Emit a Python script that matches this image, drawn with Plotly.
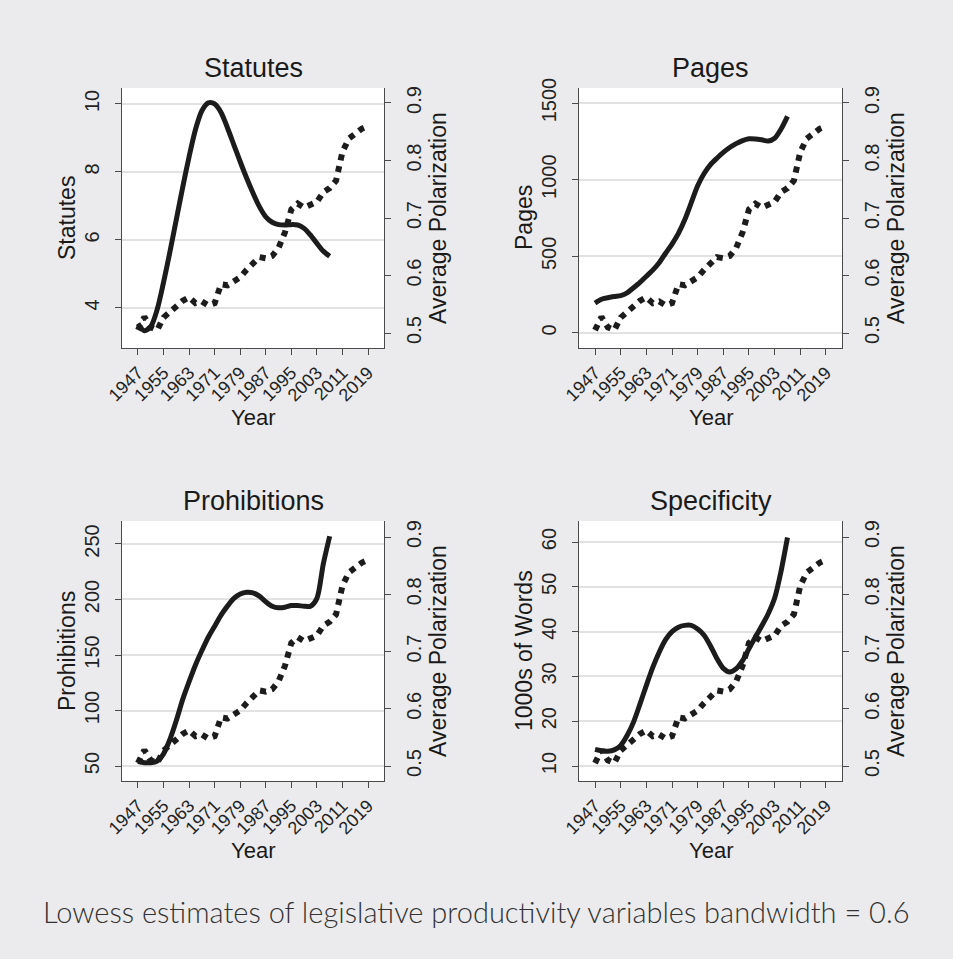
import plotly.graph_objects as go

# ---------------- data ----------------
years_pol = list(range(1947, 2020, 2))
polarization = [0.505, 0.528, 0.510, 0.505, 0.527, 0.537, 0.548, 0.556, 0.562, 0.552,
                0.555, 0.548, 0.552, 0.585, 0.583, 0.590, 0.597, 0.610, 0.622, 0.632,
                0.630, 0.634, 0.648, 0.675, 0.715, 0.725, 0.718, 0.722, 0.728, 0.745,
                0.752, 0.765, 0.815, 0.838, 0.848, 0.855, 0.860]

years_fit = list(range(1947, 2008, 2))
statutes = [3.54, 3.33, 3.45, 3.95, 4.75, 5.65, 6.6, 7.55, 8.45, 9.25,
            9.8, 10.03, 10.0, 9.75, 9.3, 8.8, 8.3, 7.82, 7.38, 6.98,
            6.68, 6.52, 6.45, 6.44, 6.45, 6.44, 6.34, 6.14, 5.9, 5.67, 5.52]
pages = [195, 220, 230, 238, 244, 262, 295, 330, 370, 410,
         458, 520, 580, 650, 740, 850, 960, 1040, 1098, 1140,
         1178, 1210, 1235, 1255, 1267, 1266, 1260, 1252, 1270, 1330, 1413]
prohibitions = [54, 53, 53, 54.5, 61, 74, 91, 110, 126, 141,
                154, 166, 176, 186, 194, 201, 205, 206.5, 206, 203,
                198, 194, 192.5, 193, 194.5, 194.5, 194, 194, 201, 232, 257]
specificity = [13.7, 13.4, 13.3, 13.6, 14.6, 16.8, 19.8, 23.8, 28, 32,
               35.4, 38.2, 40, 41, 41.4, 41.4, 40.6, 39.2, 36.8, 34,
               31.8, 31, 31.7, 33.5, 36.2, 38.8, 41.3, 44, 47.5, 53.5, 61]

panel_titles = ["Statutes", "Pages", "Prohibitions", "Specificity"]
left_titles = ["Statutes", "Pages", "Prohibitions", "1000s of Words"]
right_title = "Average Polarization"
x_title = "Year"
left_ticks = [[4, 6, 8, 10], [0, 500, 1000, 1500], [50, 100, 150, 200, 250],
              [10, 20, 30, 40, 50, 60]]
right_ticks = [0.5, 0.6, 0.7, 0.8, 0.9]
year_ticks = list(range(1947, 2020, 8))
caption = "Lowess estimates of legislative productivity variables bandwidth = 0.6"

series = [statutes, pages, prohibitions, specificity]

# ---------------- layout geometry ----------------
W, H = 953, 959
boxes = [(122, 384, 88, 348), (579, 842, 88, 348), (122, 384, 521, 781), (579, 842, 521, 781)]
left_ranges = [[2.82, 10.47], [-98, 1598], [36.5, 270.7], [6.65, 64.7]]
right_ranges = [[0.474, 0.926], [0.474, 0.926], [0.4738, 0.928], [0.4738, 0.928]]
x_range = [1942, 2024]

FONT = "Liberation Sans, Arial, Helvetica, sans-serif"
INK = "#1c1c1c"
AXC = "#4a4a4a"
BG = "#EBEBED"

fig = go.Figure()
layout = dict(
    width=W, height=H, autosize=False,
    margin=dict(l=0, r=0, t=0, b=0),
    paper_bgcolor=BG, plot_bgcolor="white",
    showlegend=False,
    font=dict(family=FONT, color="#222"),
)
annotations = []

for i in range(4):
    n = i + 1
    l, r, t, b = boxes[i]
    xd = [l / W, r / W]
    yd = [1 - b / H, 1 - t / H]
    xs = "x" if n == 1 else f"x{n}"
    ys = "y" if n == 1 else f"y{n}"
    ys2 = f"y{n + 4}"

    fig.add_trace(go.Scatter(x=years_fit, y=series[i], mode="lines",
                             line=dict(color=INK, width=5, shape="spline", smoothing=0.8),
                             xaxis=xs, yaxis=ys, hoverinfo="skip"))
    fig.add_trace(go.Scatter(x=years_pol, y=polarization, mode="lines",
                             line=dict(color=INK, width=6, dash="6px,6px"),
                             xaxis=xs, yaxis=ys2, hoverinfo="skip"))

    layout["xaxis" if n == 1 else f"xaxis{n}"] = dict(
        domain=xd, anchor=ys, range=x_range, tickmode="array", tickvals=year_ticks,
        ticktext=[str(v) for v in year_ticks], tickangle=-45,
        ticks="outside", ticklen=6, tickwidth=1.3, tickcolor=AXC,
        showline=True, linecolor=AXC, linewidth=1.3, showgrid=False, zeroline=False,
        tickfont=dict(size=18, family=FONT, color="#222"), automargin=False,
        fixedrange=True,
    )
    layout["yaxis" if n == 1 else f"yaxis{n}"] = dict(
        domain=yd, anchor=xs, range=left_ranges[i], tickmode="array", tickvals=left_ticks[i],
        tickangle=-90, ticks="outside", ticklen=6, tickwidth=1.3, tickcolor=AXC,
        showline=True, linecolor=AXC, linewidth=1.3, showgrid=True,
        gridcolor="#E2E2E2", gridwidth=1.6, zeroline=False,
        tickfont=dict(size=20, family=FONT, color="#222"), automargin=False,
        ticklabelstandoff=8, fixedrange=True,
    )
    layout[f"yaxis{n + 4}"] = dict(
        domain=yd, anchor=xs, overlaying=ys, side="right", range=right_ranges[i],
        tickmode="array", tickvals=right_ticks, tickformat=".1f",
        tickangle=-90, ticks="outside", ticklen=6, tickwidth=1.3, tickcolor=AXC,
        showline=True, linecolor=AXC, linewidth=1.3, showgrid=False, zeroline=False,
        tickfont=dict(size=20, family=FONT, color="#222"), automargin=False,
        ticklabelstandoff=6, fixedrange=True,
    )

    cx = (l + r) / 2 / W
    cy = 1 - (t + b) / 2 / H
    annotations.append(dict(text=panel_titles[i], x=cx, y=1 - (t - 20) / H,
                            xref="paper", yref="paper", xanchor="center", yanchor="middle",
                            showarrow=False, font=dict(size=27, family=FONT, color="#1a1a1a")))
    annotations.append(dict(text=left_titles[i], x=(l - 55) / W, y=cy, textangle=-90,
                            xref="paper", yref="paper", xanchor="center", yanchor="middle",
                            showarrow=False, font=dict(size=23, family=FONT, color="#1a1a1a")))
    annotations.append(dict(text=right_title, x=(r + 54) / W, y=cy, textangle=-90,
                            xref="paper", yref="paper", xanchor="center", yanchor="middle",
                            showarrow=False, font=dict(size=23, family=FONT, color="#1a1a1a")))
    annotations.append(dict(text=x_title, x=cx, y=1 - (b + 69) / H,
                            xref="paper", yref="paper", xanchor="center", yanchor="middle",
                            showarrow=False, font=dict(size=22, family=FONT, color="#1a1a1a")))

annotations.append(dict(text=caption, x=0.5, y=1 - 911 / H, xref="paper", yref="paper",
                        xanchor="center", yanchor="middle", showarrow=False,
                        font=dict(size=29, family="Lato, Roboto, sans-serif", color="#333",
                                  weight=300)))
layout["annotations"] = annotations
fig.update_layout(**layout)

fig.write_html(
    "out.html",
    config={"displayModeBar": False},
    post_script="document.body.style.margin='0';document.body.style.overflow='hidden';",
)
